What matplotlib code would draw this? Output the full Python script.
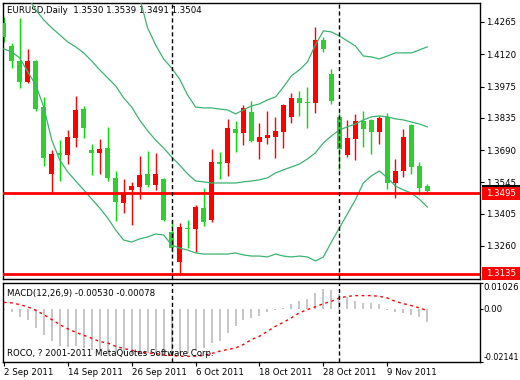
import numpy as np
import matplotlib
matplotlib.use("Agg")
import matplotlib.pyplot as plt
import matplotlib.transforms as mtransforms
from matplotlib.patches import Rectangle

plt.rcParams['font.family'] = ['DejaVu Sans']
plt.rcParams['font.size'] = 6.2

# EURUSD daily bars, 2 Sep 2011 .. 16 Nov 2011
opens = [1.4260, 1.4157, 1.4090, 1.3996, 1.4090, 1.3883, 1.3583, 1.3677, 1.3668, 1.3744,
         1.3874, 1.3690, 1.3677, 1.3699, 1.3565, 1.3452, 1.3511, 1.3524, 1.3583, 1.3533,
         1.3560, 1.3322, 1.3187, 1.3340, 1.3336, 1.3430, 1.3376, 1.3636, 1.3632, 1.3785,
         1.3767, 1.3861, 1.3726, 1.3744, 1.3749, 1.3771, 1.3839, 1.3924, 1.3906, 1.3901,
         1.4184, 1.4032, 1.3839, 1.3668, 1.3740, 1.3821, 1.3825, 1.3771, 1.3839, 1.3542,
         1.3596, 1.3803, 1.3618, 1.3530]
highs = [1.4288, 1.4171, 1.4283, 1.4144, 1.4092, 1.3928, 1.3690, 1.3735, 1.3780, 1.3933,
         1.3888, 1.3717, 1.3740, 1.3794, 1.3596, 1.3560, 1.3547, 1.3663, 1.3686, 1.3677,
         1.3565, 1.3376, 1.3362, 1.3376, 1.3443, 1.3520, 1.3695, 1.3681, 1.3829, 1.3821,
         1.3892, 1.3910, 1.3812, 1.3865, 1.3839, 1.3897, 1.3946, 1.3955, 1.3973, 1.4243,
         1.4197, 1.4054, 1.3856, 1.3825, 1.3852, 1.3865, 1.3829, 1.3843, 1.3856, 1.3650,
         1.3785, 1.3805, 1.3636, 1.3539]
lows = [1.4175, 1.4058, 1.3969, 1.3991, 1.3865, 1.3618, 1.3493, 1.3551, 1.3627, 1.3704,
        1.3744, 1.3578, 1.3583, 1.3551, 1.3372, 1.3407, 1.3354, 1.3470, 1.3524, 1.3511,
        1.3372, 1.3232, 1.3133, 1.3250, 1.3232, 1.3349, 1.3367, 1.3560, 1.3574, 1.3681,
        1.3713, 1.3726, 1.3650, 1.3717, 1.3654, 1.3699, 1.3812, 1.3843, 1.3789, 1.3856,
        1.4130, 1.3897, 1.3601, 1.3659, 1.3645, 1.3704, 1.3672, 1.3717, 1.3515, 1.3475,
        1.3569, 1.3583, 1.3488, 1.3491]
closes = [1.4197, 1.4090, 1.3996, 1.4090, 1.3874, 1.3654, 1.3672, 1.3668, 1.3749, 1.3870,
          1.3789, 1.3677, 1.3695, 1.3565, 1.3457, 1.3497, 1.3529, 1.3578, 1.3533, 1.3583,
          1.3376, 1.3250, 1.3345, 1.3336, 1.3434, 1.3367, 1.3636, 1.3627, 1.3789, 1.3767,
          1.3879, 1.3731, 1.3749, 1.3758, 1.3776, 1.3892, 1.3924, 1.3901, 1.3901, 1.4184,
          1.4144, 1.3910, 1.3695, 1.3744, 1.3821, 1.3785, 1.3771, 1.3834, 1.3542, 1.3596,
          1.3749, 1.3614, 1.3520, 1.3504]

# Bollinger bands (nan = off screen)
bb_upper = [np.nan] * 17 + [
    1.4373, 1.4238, 1.4162, 1.4099, 1.4058, 1.4009, 1.3937, 1.3883, 1.3879, 1.3879,
    1.3874, 1.3870, 1.3852, 1.3870, 1.3888, 1.3897, 1.3915, 1.3928, 1.3973, 1.4023,
    1.4050, 1.4085, 1.4162, 1.4225, 1.4220, 1.4202, 1.4180, 1.4157, 1.4112, 1.4108,
    1.4099, 1.4112, 1.4126, 1.4126, 1.4126, 1.4139, 1.4153]
bb_middle = [np.nan] * 3 + [
    1.4377, 1.4319, 1.4274, 1.4238, 1.4207, 1.4175, 1.4153, 1.4126, 1.4090, 1.4050,
    1.4014, 1.3978, 1.3924, 1.3883, 1.3825, 1.3776, 1.3735, 1.3699, 1.3659, 1.3623,
    1.3583, 1.3551, 1.3547, 1.3542, 1.3542, 1.3542, 1.3542, 1.3547, 1.3551, 1.3556,
    1.3565, 1.3587, 1.3601, 1.3614, 1.3627, 1.3650, 1.3677, 1.3722, 1.3753, 1.3780,
    1.3794, 1.3807, 1.3825, 1.3839, 1.3843, 1.3839, 1.3830, 1.3825, 1.3816, 1.3807,
    1.3794]
bb_lower = [1.4144, 1.4130, 1.4103, 1.4041, 1.3982, 1.3883, 1.3735, 1.3645, 1.3592, 1.3551,
            1.3511, 1.3470, 1.3430, 1.3385, 1.3331, 1.3286, 1.3277, 1.3291, 1.3300, 1.3313,
            1.3309, 1.3264, 1.3250, 1.3241, 1.3228, 1.3223, 1.3223, 1.3223, 1.3223, 1.3228,
            1.3219, 1.3214, 1.3214, 1.3210, 1.3223, 1.3214, 1.3210, 1.3214, 1.3210, 1.3192,
            1.3210, 1.3277, 1.3340, 1.3403, 1.3466, 1.3542, 1.3574, 1.3596, 1.3565, 1.3529,
            1.3511, 1.3497, 1.3470, 1.3434]

# MACD(12,26,9): main as histogram, signal as dotted line
macd_main = [-0.0004, -0.0015, -0.0033, -0.0047, -0.0077, -0.0104, -0.0131, -0.0151, -0.0155, -0.0151,
             -0.0158, -0.0164, -0.0171, -0.0174, -0.0180, -0.0184, -0.0184, -0.0180, -0.0180, -0.0180,
             -0.0188, -0.0192, -0.0184, -0.0178, -0.0171, -0.0158, -0.0138, -0.0131, -0.0098, -0.0071,
             -0.0047, -0.0037, -0.0028, -0.0015, -0.0007, 0.0003, 0.0020, 0.0029, 0.0038, 0.0064,
             0.0080, 0.0076, 0.0060, 0.0046, 0.0032, 0.0023, 0.0021, 0.0018, -0.0004, -0.0015,
             -0.0017, -0.0024, -0.0033, -0.0053]
macd_signal = [0.0025, 0.0023, 0.0016, 0.0007, -0.0007, -0.0024, -0.0044, -0.0064, -0.0081, -0.0095,
               -0.0107, -0.0119, -0.0132, -0.0138, -0.0151, -0.0160, -0.0167, -0.0174, -0.0178, -0.0180,
               -0.0186, -0.0188, -0.0191, -0.0191, -0.0191, -0.0188, -0.0180, -0.0171, -0.0164, -0.0158,
               -0.0144, -0.0124, -0.0111, -0.0091, -0.0071, -0.0055, -0.0037, -0.0017, -0.0004, 0.0007,
               0.0020, 0.0029, 0.0043, 0.0049, 0.0052, 0.0052, 0.0052, 0.0049, 0.0043, 0.0029,
               0.0020, 0.0012, 0.0003, -0.0008]

price_ticks = [1.4265, 1.4120, 1.3975, 1.3835, 1.3690, 1.3545, 1.3405, 1.3260]
date_ticks = [0, 8, 16, 24, 32, 40, 48]
date_labels = ['2 Sep 2011', '14 Sep 2011', '26 Sep 2011', '6 Oct 2011',
               '18 Oct 2011', '28 Oct 2011', '9 Nov 2011']
month_starts = [21, 42]          # 3 Oct, 1 Nov
levels = [1.3495, 1.3135]
bid = 1.3504

fig = plt.figure(figsize=(5.2, 3.8), dpi=100)
fig.patch.set_facecolor('white')
ax = fig.add_axes([3 / 520, 101 / 380, 477 / 520, 276 / 380])
ax2 = fig.add_axes([3 / 520, 18 / 380, 477 / 520, 79 / 380])

x = np.arange(len(closes))
o = np.array(opens)
c = np.array(closes)
down = c < o
body_col = np.where(down, '#32CD32', '#FF0000')
wick_col = np.where(down, '#00E000', '#FF0000')

# candles
ax.vlines(x, lows, highs, colors=wick_col, linewidth=1, zorder=2)
body_h = np.maximum(np.abs(c - o), 0.00025)
ax.bar(x, body_h, bottom=np.minimum(o, c), width=0.62, color=body_col,
       linewidth=0, zorder=3)

# bollinger bands
for band in (bb_upper, bb_middle, bb_lower):
    ax.plot(x, band, color='#3CB371', linewidth=0.9, zorder=4)

# support lines
for lv in levels:
    ax.axhline(lv, color='#FF0000', linewidth=2, zorder=5)

for a in (ax, ax2):
    for m in month_starts:
        a.axvline(m, color='black', linewidth=1, linestyle=(0, (3, 2)), zorder=6)

ax.set_xlim(-0.1, 59.6)
ax.set_ylim(1.3111, 1.4350)
ax.yaxis.tick_right()
ax.set_yticks(price_ticks)
ax.set_yticklabels(['%.4f' % p for p in price_ticks])
ax.tick_params(axis='y', length=3, width=0.8, pad=1.5, labelsize=6.2)
ax.set_xticks([])
for s in ax.spines.values():
    s.set_linewidth(1)

ax.text(0.008, 0.988, 'EURUSD,Daily  1.3530 1.3539 1.3491 1.3504',
        transform=ax.transAxes, va='top', ha='left', fontsize=6.2)

# price labels on the right axis (boxes run to the figure edge);
# the black bid box sits mostly hidden under the red 1.3495 box
trans = mtransforms.blended_transform_factory(ax.transAxes, ax.transData)
box_h = 13 * (1.4350 - 1.3111) / 276
box_w = 40 / 477
ax.add_patch(Rectangle((1.004, bid - box_h / 2), box_w, box_h, transform=trans,
                       facecolor='black', edgecolor='none', clip_on=False, zorder=7))
for lv in levels:
    ax.add_patch(Rectangle((1.004, lv - box_h / 2), box_w, box_h, transform=trans,
                           facecolor='#FF0000', edgecolor='none', clip_on=False, zorder=8))
    ax.text(1.012, lv, '%.4f' % lv, transform=trans, va='center', ha='left',
            color='white', fontsize=6.2, clip_on=False, zorder=9)

# MACD panel
ax2.vlines(x, 0, macd_main, colors='#C0C0C0', linewidth=1.3, zorder=2)
ax2.plot(x, macd_signal, color='#FF0000', linewidth=1, linestyle=(0, (2, 2.5)), zorder=3)
ax2.set_xlim(-0.1, 59.6)
ax2.set_ylim(-0.02141, 0.01026)
ax2.yaxis.tick_right()
ax2.set_yticks([0.01026, 0.0, -0.02141])
ax2.set_yticklabels(['0.01026', '0.00', '-0.02141'])
ax2.tick_params(axis='y', length=2, width=0.8, pad=0.6, labelsize=6.2)
ylabs = ax2.get_yticklabels()
ylabs[0].set_va('top')
ylabs[2].set_va('bottom')
ylabs[2].set_fontsize(5.8)
ax2.set_xticks(date_ticks)
ax2.set_xticklabels(date_labels, ha='left')
ax2.tick_params(axis='x', length=3, width=0.8, pad=1.5, labelsize=6.2)
for s in ax2.spines.values():
    s.set_linewidth(1)

ax2.text(0.008, 0.93, 'MACD(12,26,9) -0.00530 -0.00078', transform=ax2.transAxes,
         va='top', ha='left', fontsize=6.2)
ax2.text(0.008, 0.05, 'ROCO, ? 2001-2011 MetaQuotes Software Corp.', transform=ax2.transAxes,
         va='bottom', ha='left', fontsize=6.2)

plt.savefig('out.png', dpi=100)
plt.close()
